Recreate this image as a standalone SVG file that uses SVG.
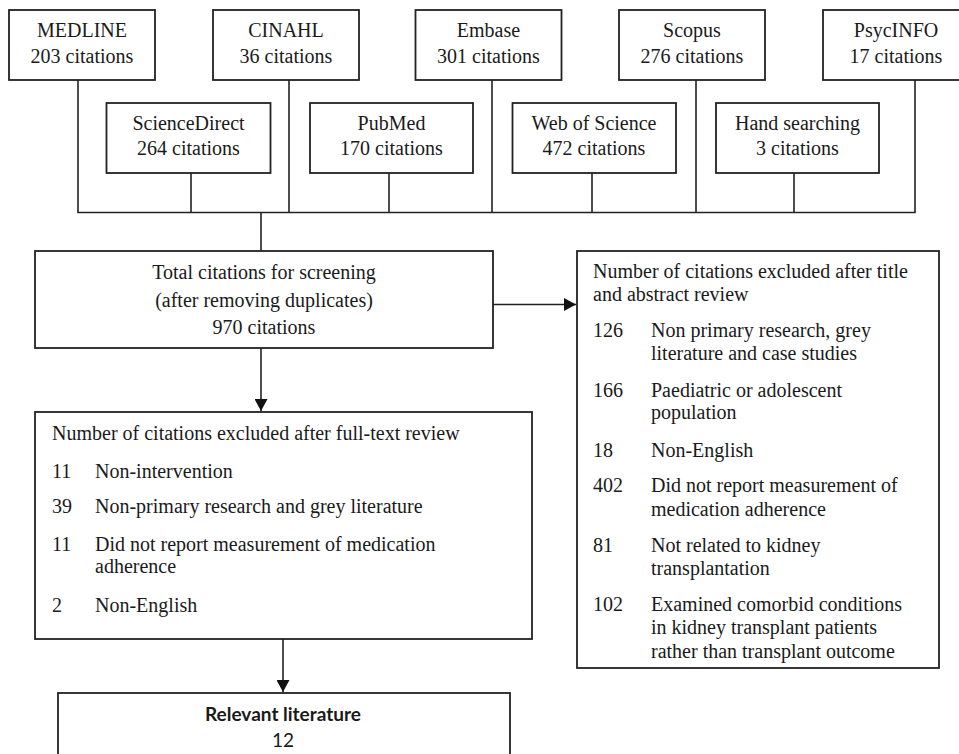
<svg xmlns="http://www.w3.org/2000/svg" width="959" height="754" viewBox="0 0 959 754">
<style>
.box{fill:#fff;stroke:#222;stroke-width:1.8}
.ln{fill:none;stroke:#222;stroke-width:1.6}
.t{font-family:'Liberation Serif','Times New Roman','DejaVu Serif',serif;font-size:20px;fill:#1a1a1a}
.c{text-anchor:middle}
.s{font-family:Lato,'Liberation Sans',Arial,sans-serif;font-size:19px;fill:#1a1a1a;text-anchor:middle}
</style>
<defs>
<marker id="ah" markerUnits="userSpaceOnUse" markerWidth="13" markerHeight="13" refX="12" refY="6.5" orient="auto">
<path d="M0,0 L12,6.5 L0,13 z" fill="#111"/>
</marker>
</defs>
<rect width="959" height="754" fill="#fff"/>
<g id="connectors">
<path class="ln" d="M78,80 V212.5 M191,173 V212.5 M289,80 V212.5 M389,173 V212.5 M492,80 V212.5 M592,173 V212.5 M696,80 V212.5 M794,173 V212.5 M915,80 V212.5 M77.2,212.5 H915.8 M261,212.5 V251"/>
<path class="ln" d="M493,304.5 H576" marker-end="url(#ah)"/>
<path class="ln" d="M261,348 V411" marker-end="url(#ah)"/>
<path class="ln" d="M283,639 V692" marker-end="url(#ah)"/>
</g>
<g id="medline"><rect class="box" x="9" y="10" width="146" height="70"/><text class="t c" x="82" y="37">MEDLINE</text><text class="t c" x="82" y="63">203 citations</text></g>
<g id="cinahl"><rect class="box" x="213" y="10" width="146" height="70"/><text class="t c" x="286" y="37">CINAHL</text><text class="t c" x="286" y="63">36 citations</text></g>
<g id="embase"><rect class="box" x="415.5" y="10" width="146" height="70"/><text class="t c" x="488.5" y="37">Embase</text><text class="t c" x="488.5" y="63">301 citations</text></g>
<g id="scopus"><rect class="box" x="619" y="10" width="146" height="70"/><text class="t c" x="692" y="37">Scopus</text><text class="t c" x="692" y="63">276 citations</text></g>
<g id="psycinfo"><rect class="box" x="823" y="10" width="146" height="70"/><text class="t c" x="896" y="37">PsycINFO</text><text class="t c" x="896" y="63">17 citations</text></g>
<g id="sciencedirect"><rect class="box" x="106.5" y="103" width="164" height="70"/><text class="t c" x="188.5" y="130">ScienceDirect</text><text class="t c" x="188.5" y="155">264 citations</text></g>
<g id="pubmed"><rect class="box" x="310" y="103" width="163" height="70"/><text class="t c" x="391.5" y="130">PubMed</text><text class="t c" x="391.5" y="155">170 citations</text></g>
<g id="webofscience"><rect class="box" x="512.5" y="103" width="163.5" height="70"/><text class="t c" x="594" y="130">Web of Science</text><text class="t c" x="594" y="155">472 citations</text></g>
<g id="handsearching"><rect class="box" x="716" y="103" width="163" height="70"/><text class="t c" x="797.5" y="130">Hand searching</text><text class="t c" x="797.5" y="155">3 citations</text></g>
<g id="total"><rect class="box" x="35" y="251" width="458" height="97"/><text class="t c" x="264" y="279">Total citations for screening</text><text class="t c" x="264" y="307">(after removing duplicates)</text><text class="t c" x="264" y="334">970 citations</text></g>
<g id="titleabstract"><rect class="box" x="577" y="251" width="362" height="417"/>
<text class="t" x="593" y="278">Number of citations excluded after title</text>
<text class="t" x="593" y="301">and abstract review</text>
<text class="t" x="593" y="337">126</text><text class="t" x="651" y="337">Non primary research, grey</text>
<text class="t" x="651" y="360">literature and case studies</text>
<text class="t" x="593" y="397">166</text><text class="t" x="651" y="397">Paediatric or adolescent</text>
<text class="t" x="651" y="419">population</text>
<text class="t" x="593" y="457">18</text><text class="t" x="651" y="457">Non-English</text>
<text class="t" x="593" y="492">402</text><text class="t" x="651" y="492">Did not report measurement of</text>
<text class="t" x="651" y="516">medication adherence</text>
<text class="t" x="593" y="552">81</text><text class="t" x="651" y="552">Not related to kidney</text>
<text class="t" x="651" y="575">transplantation</text>
<text class="t" x="593" y="611">102</text><text class="t" x="651" y="611">Examined comorbid conditions</text>
<text class="t" x="651" y="634">in kidney transplant patients</text>
<text class="t" x="651" y="658">rather than transplant outcome</text>
</g>
<g id="fulltext"><rect class="box" x="35" y="412" width="497" height="227"/>
<text class="t" x="52" y="440">Number of citations excluded after full-text review</text>
<text class="t" x="52" y="478">11</text><text class="t" x="95" y="478">Non-intervention</text>
<text class="t" x="52" y="513">39</text><text class="t" x="95" y="513">Non-primary research and grey literature</text>
<text class="t" x="52" y="551">11</text><text class="t" x="95" y="551">Did not report measurement of medication</text>
<text class="t" x="95" y="573">adherence</text>
<text class="t" x="52" y="612">2</text><text class="t" x="95" y="612">Non-English</text>
</g>
<g id="relevant"><rect class="box" x="58" y="693" width="452" height="80"/>
<text class="s" x="283" y="721" font-weight="bold">Relevant literature</text>
<text class="s" x="283" y="747">12</text>
</g>
</svg>
